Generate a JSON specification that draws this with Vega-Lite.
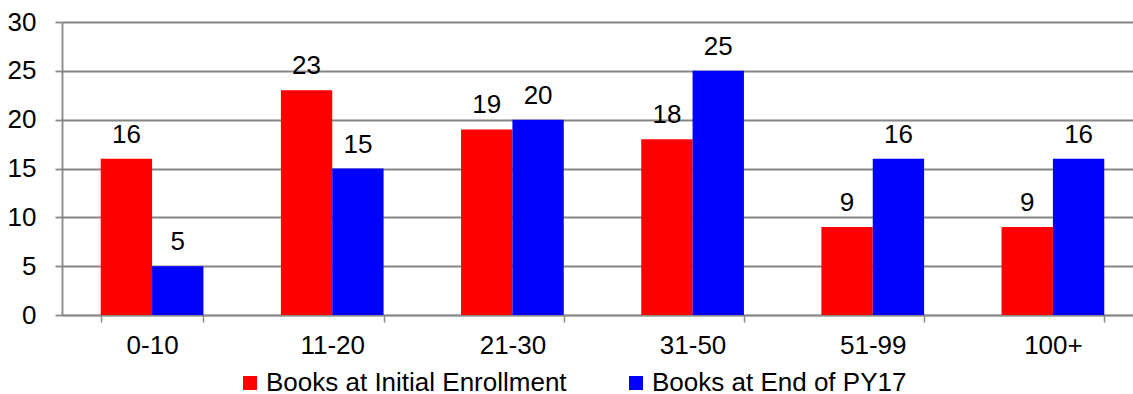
{
  "$schema": "https://vega.github.io/schema/vega-lite/v6.json",
  "autosize": {"type": "none"},
  "width": 1071,
  "height": 293,
  "padding": {"left": 62, "top": 22, "right": 0, "bottom": 79},
  "background": "white",
  "config": {
    "font": "Liberation Sans",
    "view": {"stroke": null},
    "axis": {"labelFont": "Liberation Sans", "labelColor": "#000000", "labelFontSize": 26, "title": null}
  },
  "data": {
    "values": [
      {"range": "0-10", "series": "Books at Initial Enrollment", "value": 16},
      {"range": "0-10", "series": "Books at End of PY17", "value": 5},
      {"range": "11-20", "series": "Books at Initial Enrollment", "value": 23},
      {"range": "11-20", "series": "Books at End of PY17", "value": 15},
      {"range": "21-30", "series": "Books at Initial Enrollment", "value": 19},
      {"range": "21-30", "series": "Books at End of PY17", "value": 20},
      {"range": "31-50", "series": "Books at Initial Enrollment", "value": 18},
      {"range": "31-50", "series": "Books at End of PY17", "value": 25},
      {"range": "51-99", "series": "Books at Initial Enrollment", "value": 9},
      {"range": "51-99", "series": "Books at End of PY17", "value": 16},
      {"range": "100+", "series": "Books at Initial Enrollment", "value": 9},
      {"range": "100+", "series": "Books at End of PY17", "value": 16}
    ]
  },
  "encoding": {
    "x": {
      "field": "range", "type": "nominal",
      "sort": ["0-10", "11-20", "21-30", "31-50", "51-99", "100+"],
      "scale": {"range": [0, 1081], "paddingInner": 0.43, "paddingOuter": 0.215},
      "axis": {
        "labelAngle": 0, "tickBand": "extent", "tickSize": 7, "tickColor": "#888888", "tickWidth": 1.5,
        "domainColor": "#888888", "domainWidth": 1.5, "labelPadding": 10
      }
    },
    "xOffset": {
      "field": "series", "type": "nominal",
      "sort": ["Books at Initial Enrollment", "Books at End of PY17"],
      "scale": {"paddingInner": 0, "paddingOuter": 0}
    },
    "y": {
      "field": "value", "type": "quantitative",
      "scale": {"domain": [0, 30], "nice": false},
      "axis": {
        "values": [0, 5, 10, 15, 20, 25, 30], "grid": true, "gridColor": "#868686", "gridWidth": 1.8,
        "tickSize": 7, "tickColor": "#868686", "tickWidth": 1.8, "domainColor": "#868686", "domainWidth": 1.8,
        "labelPadding": 19
      }
    }
  },
  "layer": [
    {
      "mark": {"type": "bar"},
      "encoding": {
        "color": {
          "field": "series", "type": "nominal",
          "sort": ["Books at Initial Enrollment", "Books at End of PY17"],
          "scale": {"domain": ["Books at Initial Enrollment", "Books at End of PY17"], "range": ["#FF0000", "#0000FF"]},
          "legend": {
            "title": null, "orient": "none", "direction": "horizontal",
            "legendX": 175, "legendY": 348,
            "symbolType": "square", "symbolSize": 196, "symbolStrokeWidth": 0,
            "labelFontSize": 26, "labelFont": "Liberation Sans", "labelColor": "#000000", "labelLimit": 600,
            "labelOffset": 3, "columnPadding": 56
          }
        }
      }
    },
    {
      "mark": {"type": "text", "baseline": "alphabetic", "dy": -16, "fontSize": 26, "font": "Liberation Sans", "color": "#000000"},
      "encoding": {"text": {"field": "value", "type": "quantitative"}}
    }
  ]
}
